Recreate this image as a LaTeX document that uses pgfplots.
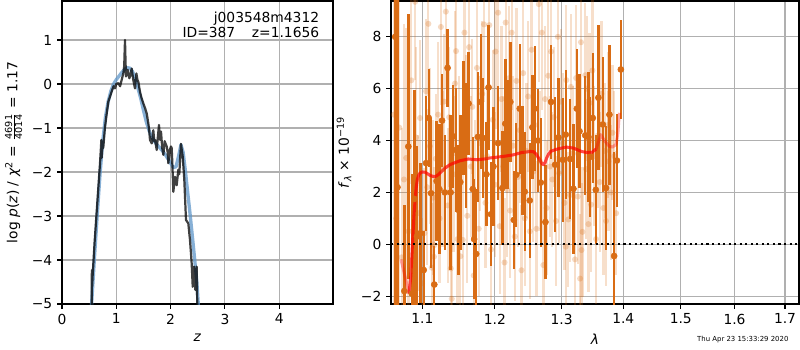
\documentclass[border=0pt]{standalone}
\usepackage{fontspec}
\usepackage{amsmath}
\setmainfont{DejaVu Sans}
\usepackage{pgfplots}
\pgfplotsset{compat=1.18}
\definecolor{dk}{RGB}{217,108,20}
\definecolor{gridc}{RGB}{176,176,176}
\definecolor{bluec}{RGB}{95,150,200}
\pgfplotsset{
  common/.style={
    scale only axis,
    axis line style={line width=0.8pt},
    grid=major,
    major grid style={gridc, line width=0.8pt},
    tick align=outside,
    xtick pos=bottom, ytick pos=left,
    major tick length=3.5pt,
    tick style={black, line width=0.8pt},
    ticklabel style={font=\fontsize{10}{12}\selectfont},
    label style={font=\fontsize{10}{12}\selectfont},
    /pgf/number format/assume math mode=true,
  }
}
\begin{document}
\begin{tikzpicture}
\useasboundingbox (0,0) rectangle (578.16pt,252.95pt);
% ---------------- left panel
\begin{axis}[common,
  at={(44.81pt,33.24pt)}, anchor=south west,
  width=195.85pt, height=218.98pt,
  xmin=0, xmax=4.99, ymin=-5, ymax=1.886,
  xtick={0,1,2,3,4}, xticklabels={0,1,2,3,4},
  ytick={-5,-4,-3,-2,-1,0,1}, yticklabels={−5,−4,−3,−2,−1,0,1},
  xlabel={\textit{z}},
  ylabel={log \textit{p}(\textit{z}) / \textit{χ}\textsuperscript{2} = $\frac{\text{4691}}{\text{4014}}$ = 1.17},
]
\addplot[bluec, opacity=0.75, line width=2.4pt, line join=round] coordinates {
(0.53,-5.3) (0.60,-3.9) (0.65,-2.95) (0.70,-2.05) (0.75,-1.3) (0.80,-0.75) (0.85,-0.4)
(0.90,-0.16) (0.95,0.0) (1.0,0.1) (1.05,0.18) (1.1,0.26) (1.15,0.33) (1.2,0.37) (1.25,0.36)
(1.3,0.28) (1.35,0.12) (1.4,-0.1) (1.45,-0.33) (1.5,-0.6) (1.55,-0.85) (1.6,-1.05)
(1.65,-1.2) (1.7,-1.3) (1.75,-1.38) (1.8,-1.45) (1.85,-1.52) (1.9,-1.6) (1.95,-1.7)
(2.0,-1.8) (2.05,-1.9) (2.1,-1.88) (2.15,-1.62) (2.19,-1.38) (2.23,-1.55) (2.27,-1.95)
(2.30,-2.3) (2.357,-2.94) (2.42,-3.7) (2.48,-4.45) (2.52,-5.2)
};
\addplot[black, opacity=0.75, line width=1.6pt, line join=round] coordinates {
(0.54,-5.3) (0.547,-4.98) (0.550,-4.23) (0.556,-4.6) (0.562,-4.4) (0.60,-3.6) (0.65,-2.7)
(0.70,-1.8) (0.725,-1.27) (0.73,-1.68) (0.745,-1.4) (0.76,-1.45) (0.79,-1.0) (0.82,-0.7)
(0.853,-0.40) (0.88,-0.3) (0.915,-0.17) (0.95,-0.05) (0.976,-0.1) (1.0,0.0) (1.037,0.02)
(1.07,-0.05) (1.10,0.1) (1.129,0.24) (1.145,0.4) (1.16,1.0) (1.17,0.5) (1.178,0.17)
(1.21,0.32) (1.24,0.13) (1.26,0.2) (1.283,0.35) (1.313,0.09) (1.344,-0.1) (1.37,0.24)
(1.39,0.09) (1.405,0.05) (1.436,-0.18) (1.467,-0.33) (1.50,-0.45) (1.53,-0.55)
(1.56,-0.67) (1.589,-0.89) (1.605,-1.05) (1.62,-1.27) (1.652,-1.35) (1.681,-1.05)
(1.70,-1.3) (1.713,-1.27) (1.744,-1.5) (1.765,-1.2) (1.786,-0.93) (1.805,-1.27)
(1.823,-1.08) (1.845,-1.45) (1.866,-1.61) (1.89,-1.3) (1.928,-1.42) (1.946,-1.55)
(1.958,-1.80) (1.985,-1.5) (2.007,-1.42) (2.02,-1.46) (2.03,-1.75) (2.05,-2.45)
(2.08,-2.11) (2.10,-2.25) (2.112,-2.30) (2.142,-1.95) (2.16,-2.05) (2.19,-1.36)
(2.223,-1.65) (2.252,-2.18) (2.283,-3.09) (2.326,-3.17) (2.357,-3.55) (2.388,-4.08)
(2.407,-4.61) (2.431,-4.15) (2.455,-4.68) (2.48,-4.15) (2.49,-5.0) (2.50,-5.3)
};
\node[anchor=north east, align=right, inner sep=0pt, font=\fontsize{10}{11}\selectfont]
  at (rel axis cs:0.95,0.965) {j003548m4312\\ID=387\hspace{1.2em}z=1.1656};
\end{axis}
% ---------------- right panel
\begin{axis}[common,
  at={(282.57pt,33.24pt)}, anchor=south west,
  width=294.86pt, height=218.98pt,
  xmode=log,
  xmin=1.0594, xmax=1.7287, ymin=-2.3, ymax=9.38,
  xtick={1.1,1.2,1.3,1.4,1.5,1.6,1.7}, xticklabels={1.1,1.2,1.3,1.4,1.5,1.6,1.7},
  minor xtick={},
  ytick={-2,0,2,4,6,8}, yticklabels={−2,0,2,4,6,8},
  xlabel={\textit{λ}},
  ylabel={\textit{f}\textsubscript{\textit{λ}} × 10\textsuperscript{−19}},
]
% light points
\addplot[only marks, mark=*, mark size=2.2pt, dk,
  mark options={draw opacity=0, fill opacity=0.25},
  error bars/.cd, y dir=both, y explicit, error mark=none,
  error bar style={line width=1.6pt, opacity=0.22}]
  table[x=x, y=y, y error=e] {
x y e
1.0630 5.0 8
1.0660 1.0 9
1.0700 4.5 7
1.0730 -0.5 5
1.0760 2.5 6
1.0789 3.33 5
1.0820 0.5 4
1.0855 6.32 4
1.0880 -1.0 3
1.0905 9.35 3
1.0917 4.12 3.5
1.0945 1.2 3
1.0970 4.87 3
1.0995 -1.5 2.5
1.1027 0.43 2.5
1.1049 5.9 2.8
1.1065 2.2 3
1.1080 8.5 2.8
1.1101 3.78 3
1.1125 -0.9 2.5
1.1145 1.8 3
1.1155 -0.48 2.5
1.1160 -0.03 3
1.1180 3.3 2.5
1.1210 5.0 2.8
1.1230 1.0 2.5
1.1248 8.38 3
1.1270 2.9 3
1.1290 5.5 2.6
1.1315 8.97 3
1.1340 1.5 3
1.1360 4.9 2.7
1.1382 -0.93 2.4
1.1395 -2.1 2.2
1.1420 2.7 3
1.1440 6.2 2.8
1.1454 7.45 3
1.1475 0.2 2.5
1.1500 3.5 3
1.1513 -0.46 2.5
1.1547 0.17 2.6
1.1570 8.16 3
1.1590 4.6 2.7
1.1610 1.1 2.6
1.1635 7.6 2.9
1.1660 3.0 2.7
1.1680 5.3 2.6
1.1700 -1.2 2.4
1.1720 2.0 2.8
1.1745 6.8 2.7
1.1770 0.6 2.6
1.1790 3.9 2.6
1.1820 5.8 2.8
1.1845 8.48 3
1.1865 1.6 2.5
1.1890 3.4 2.6
1.1920 8.45 3
1.1945 -0.2 2.5
1.1970 4.8 2.7
1.2000 2.3 2.8
1.2010 7.43 3
1.2047 8.93 3
1.2070 0.7 2.6
1.2095 5.6 2.8
1.2120 3.0 2.7
1.2140 -0.7 2.5
1.2157 8.55 3
1.2180 2.1 2.6
1.2200 6.4 2.8
1.2222 1.3 2.6
1.2244 8.16 3
1.2265 3.8 2.7
1.2290 0.3 2.5
1.2315 6.3 2.8
1.2340 2.6 2.7
1.2365 4.4 2.8
1.2390 -1.0 2.5
1.2415 6.6 2.8
1.2440 1.0 2.6
1.2465 3.6 2.6
1.2490 5.7 2.9
1.2515 0.5 2.6
1.2540 7.5 3
1.2565 2.8 2.7
1.2590 4.6 2.6
1.2615 0.6 2.6
1.2650 9.26 3
1.2670 3.2 2.7
1.2696 8.16 3
1.2720 -0.8 2.5
1.2745 5.6 2.8
1.2770 1.4 2.6
1.2795 6.5 2.9
1.2820 3.0 2.7
1.2838 7.43 3
1.2857 2.5 2.6
1.2880 4.9 2.7
1.2915 0.9 2.5
1.2942 8.0 3
1.2963 2.74 2.7
1.2990 5.5 2.8
1.3020 3.9 2.7
1.3045 1.6 2.6
1.3066 -0.09 2.6
1.3075 6.33 2.9
1.3107 0.96 2.6
1.3134 1.9 2.6
1.3147 6.07 2.8
1.3180 3.5 2.6
1.3212 -0.58 2.7
1.3230 6.41 2.8
1.3255 1.84 2.6
1.3293 -1.32 2.5
1.3307 7.79 3
1.3315 -0.22 2.6
1.3330 0.48 2.5
1.3375 6.52 2.8
1.3390 2.9 2.7
1.3398 6.0 2.8
1.3426 0.78 2.6
1.3445 5.45 2.7
1.3470 1.53 2.6
1.3491 6.7 2.8
1.3520 3.4 2.7
1.3550 0.2 2.5
1.3580 4.2 2.8
1.3610 2.4 2.7
1.3640 5.8 2.8
1.3670 1.4 2.6
1.3700 3.6 2.6
1.3714 0.9 2.5
1.3740 4.6 2.8
1.3755 3.2 2.7
1.3790 2.0 2.6
1.3820 4.3 2.6
1.3850 3.4 2.5
1.3880 1.2 2.4
};
% dark points
\addplot[only marks, mark=*, mark size=2.2pt, dk,
  error bars/.cd, y dir=both, y explicit, error mark=none,
  error bar style={line width=1.7pt}]
  table[x=x, y=y, y error=e] {
x y e
1.0648 8.0 12
1.0677 2.2 12
1.0765 -1.8 3.3
1.0817 3.77 5.1
1.0862 -1.9 4.6
1.0895 1.75 4.2
1.0930 0.3 3.5
1.0974 0.43 2.7
1.1018 -0.99 1.5
1.1049 3.13 2.6
1.1085 4.87 1.9
1.1115 1.97 2.9
1.1159 -1.55 1.5
1.1190 2.44 2.3
1.1227 2.13 2.5
1.1263 4.77 1.8
1.1302 2.0 2.2
1.1338 6.8 1.5
1.1380 2.0 3.0
1.1416 4.16 2.0
1.1454 3.64 2.4
1.1486 1.33 2.5
1.1513 2.4 2.6
1.1557 4.87 2.2
1.1593 3.81 2.4
1.1628 5.43 2.0
1.1686 2.13 2.0
1.1705 0.2 2.3
1.1735 -0.37 2.5
1.1757 4.14 2.5
1.1799 5.49 2.6
1.1828 4.1 2.3
1.1879 2.7 2.0
1.1910 6.05 2.4
1.1944 1.16 2.0
1.1980 3.0 2.3
1.2047 3.9 2.2
1.2109 2.17 2.2
1.2152 4.65 2.5
1.2192 4.25 2.1
1.2225 5.49 2.3
1.2276 0.94 1.9
1.2313 2.68 2.0
1.2364 5.23 2.5
1.2403 3.22 2.1
1.2438 2.03 2.3
1.2513 1.69 2.2
1.2553 4.51 2.0
1.2589 5.23 2.4
1.2638 4.0 2.0
1.2680 2.38 2.5
1.2751 0.86 2.2
1.2838 5.49 2.2
1.2900 3.07 2.6
1.2951 4.12 2.3
1.3020 3.26 2.4
1.3066 4.23 2.5
1.3134 3.29 2.3
1.3187 2.14 2.5
1.3241 5.23 2.3
1.3283 4.36 2.2
1.3375 4.2 2.3
1.3426 4.14 2.5
1.3453 3.37 2.3
1.3497 4.87 2.5
1.3546 2.10 2.1
1.3588 5.65 2.8
1.3660 4.62 2.6
1.3714 2.17 2.4
1.3769 5.0 2.7
1.3847 -0.45 4.0
1.3893 3.23 1.8
1.3960 6.74 1.9
};
% model
\addplot[red, opacity=0.35, line width=2.2pt, line join=round] coordinates {
(1.0722,-0.58) (1.0790,-1.45) (1.0826,-1.9)
};
\addplot[red, opacity=0.7, line width=2.2pt, line join=round] coordinates {
(1.0826,-1.9) (1.0850,-1.2) (1.0870,0.0) (1.0890,1.1) (1.0905,1.71) (1.0920,2.2)
(1.0934,2.49) (1.0950,2.65) (1.097,2.75) (1.1000,2.79) (1.1036,2.78) (1.107,2.72)
(1.110,2.66) (1.114,2.62) (1.118,2.62) (1.122,2.7) (1.1257,2.81) (1.131,2.95) (1.137,3.07)
(1.144,3.15) (1.1507,3.22) (1.1624,3.29) (1.1742,3.26) (1.1850,3.29)
(1.1933,3.33) (1.2030,3.36) (1.2126,3.39) (1.227,3.45) (1.2395,3.54) (1.252,3.58) (1.2570,3.57)
(1.2610,3.48) (1.2646,3.33) (1.2690,3.14) (1.272,3.07) (1.2745,3.15) (1.277,3.33) (1.280,3.48) (1.283,3.58)
(1.288,3.63) (1.293,3.67) (1.3000,3.71) (1.3075,3.75) (1.3187,3.71) (1.3315,3.58) (1.340,3.54) (1.348,3.54) (1.355,3.67)
};
\addplot[red, opacity=0.35, line width=2.2pt, line join=round] coordinates {
(1.355,3.67) (1.3590,3.95) (1.3625,4.23) (1.3660,4.1) (1.3696,3.97) (1.3767,3.78) (1.382,3.75) (1.388,3.85) (1.3910,4.3) (1.3935,5.07)
};
\addplot[black, line width=1.5pt, dash pattern=on 1.5pt off 2.5pt] coordinates {(1.0594,0) (1.7287,0)};
\end{axis}
\node[anchor=south east, inner sep=0pt, font=\fontsize{5}{6}\selectfont] at (570pt,5pt) {Thu Apr 23 15:33:29 2020};
\end{tikzpicture}
\end{document}
